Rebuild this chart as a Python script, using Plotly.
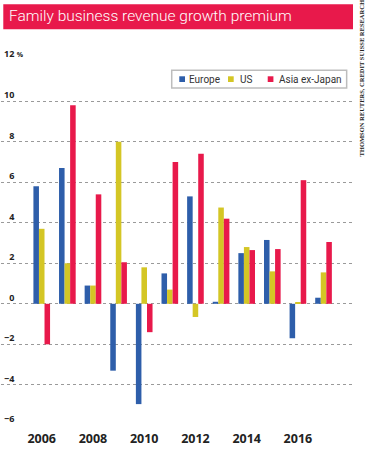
import plotly.graph_objects as go

years = [2006, 2007, 2008, 2009, 2010, 2011, 2012, 2013, 2014, 2015, 2016, 2017]
europe = [5.8, 6.7, 0.9, -3.3, -4.95, 1.5, 5.3, 0.1, 2.5, 3.15, -1.7, 0.3]
us = [3.7, 2.0, 0.9, 8.0, 1.8, 0.7, -0.65, 4.75, 2.8, 1.6, 0.05, 1.55]
asia = [-2.0, 9.8, 5.4, 2.05, -1.4, 7.0, 7.4, 4.2, 2.65, 2.7, 6.1, 3.05]

series_names = ["Europe", "US", "Asia ex-Japan"]
colors = ["#2E5EAA", "#D4C625", "#E8194B"]

x_tick_vals = [2006, 2008, 2010, 2012, 2014, 2016]
x_tick_text = ["2006", "2008", "2010", "2012", "2014", "2016"]
y_tick_vals = [12, 10, 8, 6, 4, 2, 0, -2, -4, -6]
y_tick_text = ["12 <span style='font-size:7px'>%</span>", "10", "\u20078", "\u20076",
               "\u20074", "\u20072", "\u20070", "\u22122", "\u22124", "\u22126"]

title_text = "Family business revenue growth premium"
source_text = "THOMSON REUTERS, CREDIT SUISSE RESEARCH"

fig = go.Figure()
for name, vals, col in zip(series_names, [europe, us, asia], colors):
    fig.add_trace(go.Bar(x=years, y=vals, name=name, marker=dict(color=col, line=dict(width=0)),
                         showlegend=False, hoverinfo="skip"))

fig.update_layout(
    width=366, height=450,
    margin=dict(l=1, r=13, t=60, b=24),
    paper_bgcolor="white", plot_bgcolor="white",
    barmode="group", bargap=0.35, bargroupgap=0,
    font=dict(family="Roboto", color="#222"),
    xaxis=dict(range=[2004.41, 2018.15], tickvals=x_tick_vals, ticktext=x_tick_text,
               showgrid=False, zeroline=False, showline=False, ticks="",
               ticklabelstandoff=3,
               tickfont=dict(family="Open Sans", size=12.5, color="#222", weight="bold")),
    yaxis=dict(range=[-6.03, 12.03], tickvals=y_tick_vals, ticktext=y_tick_text,
               showgrid=True, gridcolor="#9a9a9a", griddash="dot", gridwidth=1,
               zeroline=False, showline=False, ticks="",
               ticklabelposition="inside top", ticklabeloverflow="allow",
               tickfont=dict(family="Open Sans", size=9, color="#222", weight="bold")),
)

# Title banner
fig.add_shape(type="rect", xref="paper", yref="paper", x0=0.0065, x1=1.0, y0=1.0839, y1=1.1522,
              fillcolor="#E8194B", line=dict(width=0), layer="above")
fig.add_annotation(text=title_text, xref="paper", yref="paper", x=0.0179, y=1.1189,
                   xanchor="left", yanchor="middle", showarrow=False,
                   font=dict(family="Roboto", size=15.5, color="white", weight=300))

# Source text (vertical)
fig.add_annotation(text=source_text, xref="paper", yref="paper", x=1.0227, y=0.9495,
                   textangle=-90, xanchor="center", yanchor="middle", showarrow=False,
                   font=dict(family="Liberation Serif", size=6.5, color="#222", weight="bold"))

# Legend box
fig.add_shape(type="rect", xref="paper", yref="paper", x0=0.485, x1=0.982, y0=0.9235, y1=0.9719,
              fillcolor="white", line=dict(color="#bdbdbd", width=1.5), layer="above")
sq_x = [0.5065, 0.6449, 0.7577]
txt_x = [0.5298, 0.6724, 0.7827]
for name, col, sx, tx in zip(series_names, colors, sq_x, txt_x):
    fig.add_shape(type="rect", xref="paper", yref="paper", x0=sx, x1=sx + 0.0162,
                  y0=0.9399, y1=0.9555, fillcolor=col, line=dict(width=0), layer="above")
    fig.add_annotation(text=name, xref="paper", yref="paper", x=tx, y=0.9480,
                       xanchor="left", yanchor="middle", showarrow=False,
                       font=dict(family="Roboto", size=10, color="#333"))

fig.write_html("out.html", config={"displayModeBar": False},
               post_script="document.body.style.margin='0';")
